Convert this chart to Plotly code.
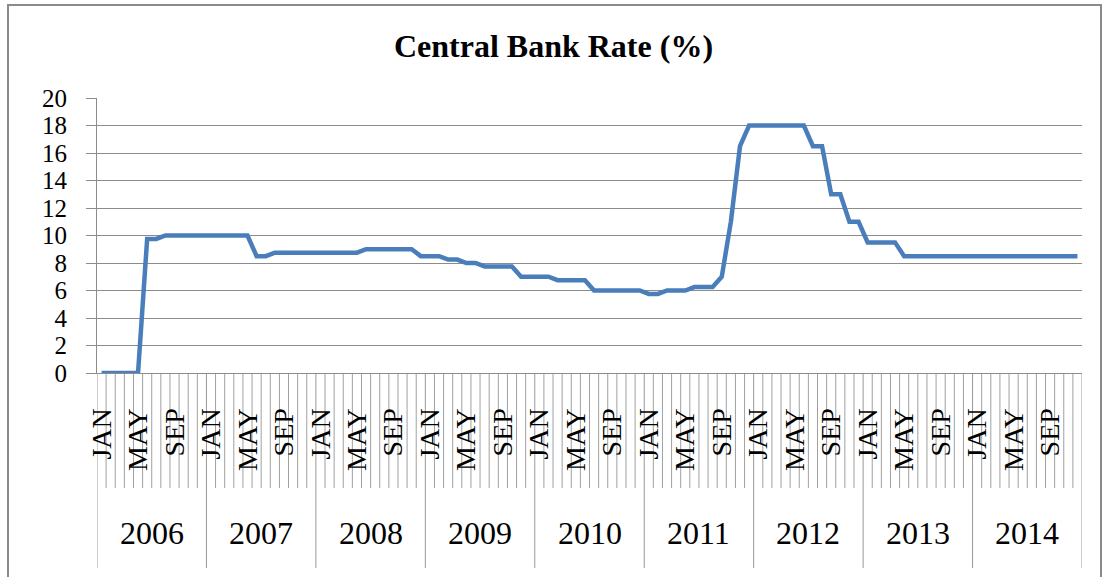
import plotly.graph_objects as go

years = ["2006", "2007", "2008", "2009", "2010", "2011", "2012", "2013", "2014"]
months = ["JAN", "FEB", "MAR", "APR", "MAY", "JUN", "JUL", "AUG", "SEP", "OCT", "NOV", "DEC"]
shown_months = ["JAN", "MAY", "SEP"]

rate_2006 = [0, 0, 0, 0, 0, 9.75, 9.75, 10, 10, 10, 10, 10]
rate_2007 = [10, 10, 10, 10, 10, 8.5, 8.5, 8.75, 8.75, 8.75, 8.75, 8.75]
rate_2008 = [8.75, 8.75, 8.75, 8.75, 8.75, 9, 9, 9, 9, 9, 9, 8.5]
rate_2009 = [8.5, 8.5, 8.25, 8.25, 8, 8, 7.75, 7.75, 7.75, 7.75, 7, 7]
rate_2010 = [7, 7, 6.75, 6.75, 6.75, 6.75, 6, 6, 6, 6, 6, 6]
rate_2011 = [5.75, 5.75, 6, 6, 6, 6.25, 6.25, 6.25, 7, 11, 16.5, 18]
rate_2012 = [18, 18, 18, 18, 18, 18, 16.5, 16.5, 13, 13, 11, 11]
rate_2013 = [9.5, 9.5, 9.5, 9.5, 8.5, 8.5, 8.5, 8.5, 8.5, 8.5, 8.5, 8.5]
rate_2014 = [8.5, 8.5, 8.5, 8.5, 8.5, 8.5, 8.5, 8.5, 8.5, 8.5, 8.5, 8.5]

y_ticks = [0, 2, 4, 6, 8, 10, 12, 14, 16, 18, 20]

rates = (rate_2006 + rate_2007 + rate_2008 + rate_2009 + rate_2010 +
         rate_2011 + rate_2012 + rate_2013 + rate_2014)
n = len(rates)
xs = list(range(n))
tick_text = [months[i % 12] if months[i % 12] in shown_months else "" for i in xs]

FONT = "Liberation Serif"
GRID = "#8c8c8c"

# plot area geometry in pixels (for paper-coordinate conversion)
W, H = 1107, 577
L, R, T, B = 97, 25, 98, 204
ph = H - T - B
pw = W - L - R


def py(pixel_y):
    return (H - B - pixel_y) / ph


def px(pixel_x):
    return (pixel_x - L) / pw


fig = go.Figure()
fig.add_trace(go.Scatter(
    x=xs, y=rates, mode="lines",
    line=dict(color="#4a7ebb", width=4.5),
    hoverinfo="skip", showlegend=False,
))

shapes = []
for i in range(n + 1):
    b = i - 0.5
    is_year = (i % 12 == 0)
    shapes.append(dict(
        type="line", xref="x", yref="paper",
        x0=b, x1=b, y0=0, y1=py(568 if is_year else 488),
        line=dict(color="#a0a0a0" if not is_year else "#999999", width=1),
        layer="below",
    ))
# outer chart frame
shapes.append(dict(
    type="rect", xref="paper", yref="paper",
    x0=px(8), x1=px(1101), y0=py(582), y1=py(5),
    line=dict(color="#8a8a8a", width=2), fillcolor="rgba(0,0,0,0)",
    layer="below",
))

annotations = []
for k, yr in enumerate(years):
    annotations.append(dict(
        x=12 * k + 5.5, y=py(533), xref="x", yref="paper",
        text=yr, showarrow=False, xanchor="center", yanchor="middle",
        font=dict(family=FONT, size=32, color="#000000"),
    ))

fig.update_layout(
    width=W, height=H,
    margin=dict(l=L, r=R, t=T, b=B),
    paper_bgcolor="white", plot_bgcolor="white",
    title=dict(
        text="<b>Central Bank Rate (%)</b>",
        x=0.5, xref="container", xanchor="center",
        y=1 - 46 / H, yref="container", yanchor="middle",
        font=dict(family=FONT, size=32, color="#000000"),
    ),
    shapes=shapes,
    annotations=annotations,
    xaxis=dict(
        range=[-0.5, n - 0.5],
        tickmode="array", tickvals=xs, ticktext=tick_text,
        tickangle=-90, ticks="", ticklabelstandoff=23,
        tickfont=dict(family=FONT, size=28, color="#000000"),
        showgrid=False, zeroline=False,
        showline=True, linecolor=GRID, linewidth=1,
        fixedrange=True,
    ),
    yaxis=dict(
        range=[0, 20],
        tickmode="array", tickvals=y_ticks,
        ticks="outside", ticklen=10, tickcolor=GRID, tickwidth=1,
        ticklabelstandoff=14,
        tickfont=dict(family=FONT, size=25, color="#000000"),
        showgrid=True, gridcolor=GRID, gridwidth=1,
        zeroline=False,
        showline=True, linecolor=GRID, linewidth=1,
        fixedrange=True,
    ),
)

fig.write_html("out.html")
